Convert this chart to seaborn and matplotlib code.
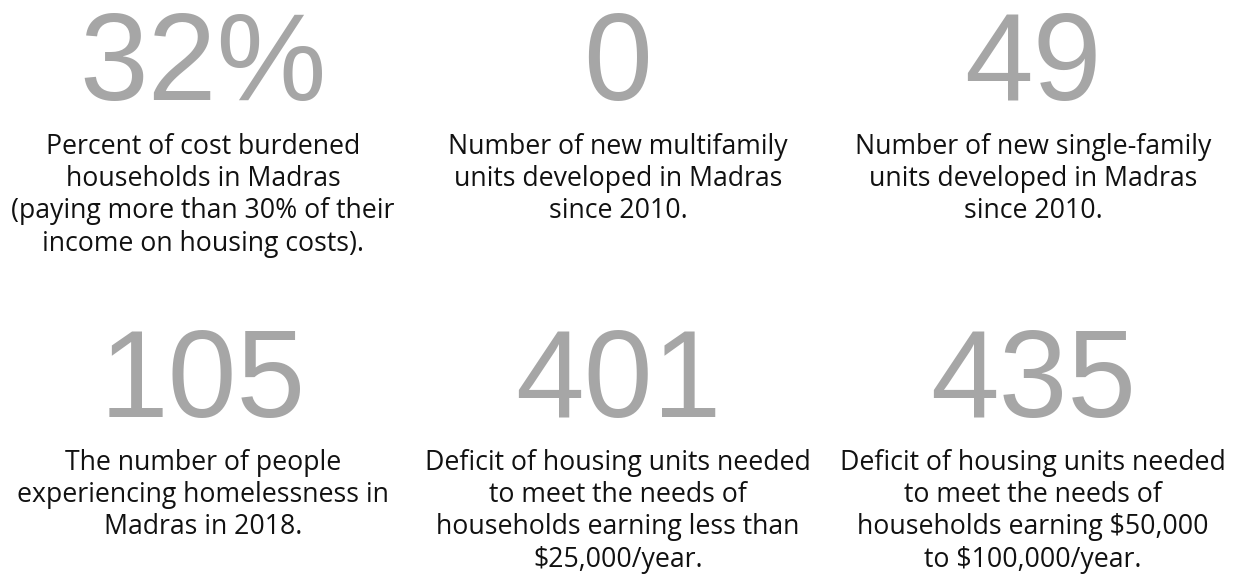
import matplotlib.pyplot as plt
import seaborn as sns

# big figures and their captions, row by row
numbers = ["32%", "0", "49", "105", "401", "435"]
captions = [
    ["Percent of cost burdened", "households in Madras", "(paying more than 30% of their", "income on housing costs)."],
    ["Number of new multifamily", "units developed in Madras", "since 2010."],
    ["Number of new single-family", "units developed in Madras", "since 2010."],
    ["The number of people", "experiencing homelessness in", "Madras in 2018."],
    ["Deficit of housing units needed", "to meet the needs of", "households earning less than", "$25,000/year."],
    ["Deficit of housing units needed", "to meet the needs of", "households earning $50,000", "to $100,000/year."],
]

sns.set_theme(style="white")
plt.rcParams['font.family'] = ['Open Sans', 'DejaVu Sans']

fig = plt.figure(figsize=(12.37, 5.75), dpi=100)
ax = fig.add_axes([0, 0, 1, 1])
ax.set_xlim(0, 1237)
ax.set_ylim(575, 0)
ax.axis('off')

col_x = [203, 618, 1033]
num_base = [100, 417]
cap_top = [147, 463]
line_h = 32.2

for i, (num, cap) in enumerate(zip(numbers, captions)):
    r, c = divmod(i, 3)
    x = col_x[c]
    ax.text(x, num_base[r], num, ha='center', va='baseline', fontsize=89,
            color='#a6a6a6', family=['Liberation Sans', 'DejaVu Sans'])
    for j, line in enumerate(cap):
        ax.text(x, cap_top[r] + j * line_h, line, ha='center', va='center',
                fontsize=19.2, color='#111111')

fig.savefig('out.png', dpi=100)
